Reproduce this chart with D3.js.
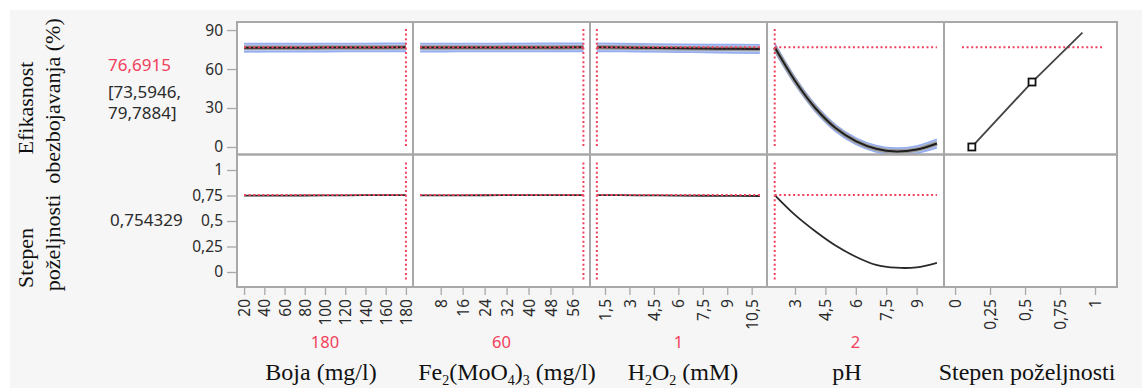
<!DOCTYPE html>
<html><head><meta charset="utf-8">
<script src="https://cdn.jsdelivr.net/npm/d3@7"></script>
<style>body{margin:0;background:#fff}svg{display:block}</style>
</head><body>
<svg id="c" width="1142" height="388"></svg>
<script>
// ---------------- data ----------------
const currentLabels = ["180", "60", "1", "2"];
const currentValues = [180, 60, 1, 2];
const predEffText = "76,6915";
const ciText1 = "[73,5946,";
const ciText2 = "79,7884]";
const predDesText = "0,754329";
const predEff = 76.6915;
const predDes = 0.754329;

const bojaX   = [20, 60, 100, 140, 180];
const bojaEff = [76.4, 76.45, 76.5, 76.6, 76.69];
const bojaCI  = [3.2, 3.1, 3.1, 3.1, 3.1];
const bojaDes = [0.748, 0.749, 0.751, 0.753, 0.754];

const feX   = [0.5, 15, 30, 45, 60];
const feEff = [76.5, 76.55, 76.6, 76.65, 76.69];
const feCI  = [3.2, 3.1, 3.1, 3.1, 3.1];
const feDes = [0.752, 0.752, 0.753, 0.754, 0.754];

const h2o2X   = [1, 3.5, 6, 8.5, 11];
const h2o2Eff = [76.69, 76.4, 76.0, 75.7, 75.4];
const h2o2CI  = [3.1, 3.0, 3.0, 3.1, 3.3];
const h2o2Des = [0.754, 0.752, 0.749, 0.747, 0.745];

const phX   = [2, 3, 4, 5, 6, 7, 8, 9, 10];
const phEff = [76.7, 51.0, 30.0, 14.6, 4.5, -1.4, -3.5, -2.0, 2.7];
const phCI  = [3.1, 2.8, 2.6, 2.5, 2.5, 2.5, 2.6, 2.8, 3.2];
const phDes = [0.754, 0.56, 0.40, 0.26, 0.15, 0.07, 0.042, 0.046, 0.09];

const desFnX = [0.12, 0.55, 0.91];
const desFnY = [0, 50, 88];

const bojaTicks = [20, 40, 60, 80, 100, 120, 140, 160, 180];
const feTicks   = [8, 16, 24, 32, 40, 48, 56];
const h2o2Ticks = [1.5, 3, 4.5, 6, 7.5, 9, 10.5];
const phTicks   = [3, 4.5, 6, 7.5, 9];
const desTicks  = [0, 0.25, 0.5, 0.75, 1];
const effTicks  = [0, 30, 60, 90];
const desYTicks = [0, 0.25, 0.5, 0.75, 1];

// ---------------- layout ----------------
const RED = "#f2405c", GRID = "#a8a8a8", TXT = "#2b2b2b";
const SANS = "'Noto Sans', 'Open Sans', sans-serif";
const SERIF = "'Liberation Serif', 'Times New Roman', serif";
const colX = [237, 413, 590, 767, 944, 1117];
const rowTop = [22, 154.5], rowBot = [154.5, 287];

const fmt = v => String(v).replace(".", ",");

const svg = d3.select("#c");
svg.append("rect").attr("x", 10).attr("y", 10).attr("width", 1132).attr("height", 378).attr("fill", "#f6f6f6");

const yEff = d3.scaleLinear().domain([-5.4, 96.2]).range([154, 22]);
const yDes = d3.scaleLinear().domain([-0.147, 1.147]).range([287, 155]);

const panels = [
  {x: bojaX, eff: bojaEff, ci: bojaCI, des: bojaDes, dom: [13, 187], ticks: bojaTicks},
  {x: feX, eff: feEff, ci: feCI, des: feDes, dom: [-2.1, 62.4], ticks: feTicks},
  {x: h2o2X, eff: h2o2Eff, ci: h2o2CI, des: h2o2Des, dom: [0.58, 11.44], ticks: h2o2Ticks},
  {x: phX, eff: phEff, ci: phCI, des: phDes, dom: [1.62, 10.35], ticks: phTicks}
];
panels.forEach((p, i) => p.xs = d3.scaleLinear().domain(p.dom).range([colX[i], colX[i + 1]]));
const xDesFn = d3.scaleLinear().domain([-0.079, 1.157]).range([colX[4], colX[5]]);

// white panel area
svg.append("rect").attr("x", colX[0]).attr("y", rowTop[0]).attr("width", colX[5] - colX[0])
  .attr("height", rowBot[1] - rowTop[0]).attr("fill", "#fff");

const defs = svg.append("defs");
for (let c = 0; c < 5; c++) for (let r = 0; r < 2; r++) {
  defs.append("clipPath").attr("id", `cp${c}_${r}`).append("rect")
    .attr("x", colX[c]).attr("y", rowTop[r]).attr("width", colX[c + 1] - colX[c]).attr("height", rowBot[r] - rowTop[r]);
}

const dotted = sel => sel.attr("stroke", RED).attr("stroke-width", 2).attr("stroke-dasharray", "2,2.6").attr("fill", "none");

panels.forEach((p, i) => {
  const pts = p.x.map((v, k) => ({x: v, y: p.eff[k], lo: p.eff[k] - p.ci[k], hi: p.eff[k] + p.ci[k], d: p.des[k]}));
  const curve = d3.curveCatmullRom;
  // top row
  const gt = svg.append("g").attr("clip-path", `url(#cp${i}_0)`);
  gt.append("path").datum(pts).attr("fill", "#bcc8ea")
    .attr("d", d3.area().curve(curve).x(d => p.xs(d.x)).y0(d => yEff(d.lo)).y1(d => yEff(d.hi)));
  ["lo", "hi"].forEach(key => gt.append("path").datum(pts).attr("fill", "none").attr("stroke", "#94adf0").attr("stroke-width", 1.6)
    .attr("d", d3.line().curve(curve).x(d => p.xs(d.x)).y(d => yEff(d[key]))));
  gt.append("path").datum(pts).attr("fill", "none").attr("stroke", "#9a9a9a").attr("stroke-width", 4.5)
    .attr("d", d3.line().curve(curve).x(d => p.xs(d.x)).y(d => yEff(d.y)));
  gt.append("path").datum(pts).attr("fill", "none").attr("stroke", "#1e1e1e").attr("stroke-width", 2)
    .attr("d", d3.line().curve(curve).x(d => p.xs(d.x)).y(d => yEff(d.y)));
  const xe = d3.extent(p.x);
  gt.append("line").attr("x1", p.xs(xe[0])).attr("x2", p.xs(xe[1])).attr("y1", yEff(predEff)).attr("y2", yEff(predEff)).call(dotted);
  gt.append("line").attr("x1", p.xs(currentValues[i])).attr("x2", p.xs(currentValues[i]))
    .attr("y1", rowTop[0] + 7).attr("y2", rowBot[0] - 7).call(dotted);
  // bottom row
  const gb = svg.append("g").attr("clip-path", `url(#cp${i}_1)`);
  gb.append("path").datum(pts).attr("fill", "none").attr("stroke", "#2a2a2a").attr("stroke-width", 1.8)
    .attr("d", d3.line().curve(curve).x(d => p.xs(d.x)).y(d => yDes(d.d)));
  gb.append("line").attr("x1", p.xs(xe[0])).attr("x2", p.xs(xe[1])).attr("y1", yDes(predDes)).attr("y2", yDes(predDes)).call(dotted);
  gb.append("line").attr("x1", p.xs(currentValues[i])).attr("x2", p.xs(currentValues[i]))
    .attr("y1", rowTop[1] + 8).attr("y2", rowBot[1] - 7).call(dotted);

  // x axis
  const ax = svg.append("g").attr("transform", `translate(0,${rowBot[1]})`)
    .call(d3.axisBottom(p.xs).tickValues(p.ticks).tickSize(8).tickFormat(fmt));
  ax.select(".domain").remove();
  ax.selectAll("line").attr("stroke", GRID).attr("stroke-width", 1.3);
  ax.selectAll("text").attr("transform", "rotate(-90)").attr("x", -12).attr("y", 0).attr("dy", "0.36em")
    .style("text-anchor", "end").attr("font-family", SANS).attr("font-size", 15.5).attr("fill", TXT);
});

// desirability function panel
const gd = svg.append("g").attr("clip-path", "url(#cp4_0)");
const dpts = desFnX.map((v, k) => ({x: v, y: desFnY[k]}));
gd.append("line").attr("x1", colX[4] + 18).attr("x2", colX[5] - 15).attr("y1", yEff(predEff)).attr("y2", yEff(predEff)).call(dotted);
gd.append("path").datum(dpts).attr("fill", "none").attr("stroke", "#444").attr("stroke-width", 1.8)
  .attr("d", d3.line().x(d => xDesFn(d.x)).y(d => yEff(d.y)));
gd.selectAll("rect.m").data(dpts.slice(0, 2)).enter().append("rect")
  .attr("x", d => xDesFn(d.x) - 3.5).attr("y", d => yEff(d.y) - 3.5).attr("width", 7).attr("height", 7)
  .attr("fill", "#fff").attr("stroke", "#111").attr("stroke-width", 1.8);
const axd = svg.append("g").attr("transform", `translate(0,${rowBot[1]})`)
  .call(d3.axisBottom(xDesFn).tickValues(desTicks).tickSize(8).tickFormat(fmt));
axd.select(".domain").remove();
axd.selectAll("line").attr("stroke", GRID).attr("stroke-width", 1.3);
axd.selectAll("text").attr("transform", "rotate(-90)").attr("x", -12).attr("y", 0).attr("dy", "0.36em")
  .style("text-anchor", "end").attr("font-family", SANS).attr("font-size", 15.5).attr("fill", TXT);

// y axes
[[yEff, effTicks], [yDes, desYTicks]].forEach(([s, t]) => {
  const a = svg.append("g").attr("transform", `translate(${colX[0] - 1},0)`)
    .call(d3.axisLeft(s).tickValues(t).tickSize(9).tickPadding(4).tickFormat(fmt));
  a.select(".domain").remove();
  a.selectAll("line").attr("stroke", GRID).attr("stroke-width", 1.3);
  a.selectAll("text").attr("font-family", SANS).attr("font-size", 15.5).attr("fill", TXT);
});

// panel grid
for (let c = 0; c < 5; c++) for (let r = 0; r < 2; r++) {
  svg.append("rect").attr("x", colX[c]).attr("y", rowTop[r]).attr("width", colX[c + 1] - colX[c]).attr("height", rowBot[r] - rowTop[r])
    .attr("fill", "none").attr("stroke", GRID).attr("stroke-width", 2);
}

// left texts
const lt = (txt, x, y, col) => svg.append("text").attr("x", x).attr("y", y).attr("font-family", SANS).attr("font-size", 17)
  .attr("fill", col).text(txt);
lt(predEffText, 108, 71, RED);
lt(ciText1, 108, 98, TXT);
lt(ciText2, 108, 119, TXT);
lt(predDesText, 110, 226, TXT);

const rot = (txt, x, y) => svg.append("text").attr("transform", `translate(${x},${y}) rotate(-90)`)
  .attr("text-anchor", "middle").attr("font-family", SERIF).attr("font-size", 22).attr("fill", "#111").text(txt);
rot("Efikasnost", 33, 108);
rot("obezbojavanja (%)", 60, 101);
rot("Stepen", 33, 258);
rot("poželjnosti", 60, 243);

// current values (red)
const centers = [325, 501.5, 678.5, 855.5];
currentLabels.forEach((t, i) => svg.append("text").attr("x", centers[i]).attr("y", 348).attr("text-anchor", "middle")
  .attr("font-family", SANS).attr("font-size", 16.5).attr("fill", RED).text(t));

// factor titles with subscripts
const titles = [
  {cx: 321, parts: [["Boja (mg/l)", 0]]},
  {cx: 507, parts: [["Fe", 0], ["2", 1], ["(MoO", 0], ["4", 1], [")", 0], ["3", 1], [" (mg/l)", 0]]},
  {cx: 683, parts: [["H", 0], ["2", 1], ["O", 0], ["2", 1], [" (mM)", 0]]},
  {cx: 847, parts: [["pH", 0]]},
  {cx: 1027, parts: [["Stepen poželjnosti", 0]]}
];
titles.forEach(tt => {
  const t = svg.append("text").attr("x", tt.cx).attr("y", 380).attr("text-anchor", "middle")
    .attr("font-family", SERIF).attr("font-size", 24).attr("fill", "#111");
  let sub = false;
  tt.parts.forEach(([s, isSub]) => {
    const ts = t.append("tspan").text(s);
    if (isSub && !sub) { ts.attr("font-size", 14).attr("dy", 5); sub = true; }
    else if (!isSub && sub) { ts.attr("dy", -5); sub = false; }
    else if (isSub) ts.attr("font-size", 14);
  });
});
</script>
</body></html>
